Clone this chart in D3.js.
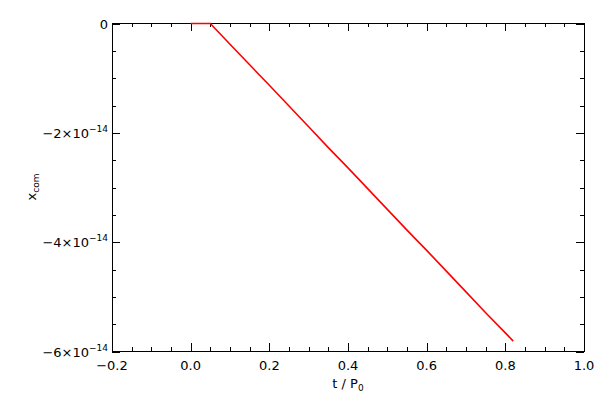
<!DOCTYPE html>
<html><head><meta charset="utf-8">
<script src="https://cdn.jsdelivr.net/npm/d3@7"></script>
<style>body{margin:0;background:#fff}svg{display:block}text{font-family:"DejaVu Sans",sans-serif;fill:#000}</style>
</head><body>
<svg id="c" width="600" height="400"></svg>
<script>
const tValues = [0, 0.05, 0.1, 0.15, 0.2, 0.25, 0.3, 0.35, 0.4, 0.45, 0.5, 0.55, 0.6, 0.65, 0.7, 0.75, 0.8, 0.82];
const xcomValues = [0, 0, -0.38e-14, -0.755e-14, -1.13e-14, -1.51e-14, -1.89e-14, -2.27e-14, -2.64e-14, -3.02e-14, -3.40e-14, -3.78e-14, -4.15e-14, -4.53e-14, -4.91e-14, -5.29e-14, -5.66e-14, -5.81e-14];
const xTicks = [-0.2, 0.0, 0.2, 0.4, 0.6, 0.8, 1.0];
const xTickLabels = ["\u22120.2", "0.0", "0.2", "0.4", "0.6", "0.8", "1.0"];
const yTicks = [0, -2e-14, -4e-14, -6e-14];
const yTickMant = ["0", "\u22122\u00d710", "\u22124\u00d710", "\u22126\u00d710"];
const yTickExp = ["", "\u221214", "\u221214", "\u221214"];

const svg = d3.select("#c");
const L = 112, R = 584, T = 23, B = 351;
const x = d3.scaleLinear().domain([-0.2, 1.0]).range([L, R]);
const y = d3.scaleLinear().domain([-6e-14, 0]).range([B + 0.5, T + 0.5]);

// frame
svg.append("rect").attr("x", L + 0.5).attr("y", T + 0.5).attr("width", R - L).attr("height", B - T)
  .attr("fill", "none").attr("stroke", "#000").attr("stroke-width", 1);

const xMinor = d3.range(-0.2, 1.0001, 0.05);
const yMinor = d3.range(-6e-14, 0.0001e-14, 0.5e-14);
const g = svg.append("g").attr("stroke", "#000").attr("stroke-width", 1);
xMinor.forEach(v => {
  const major = xTicks.some(t => Math.abs(t - v) < 1e-9);
  const len = major ? 8 : 4;
  const px = Math.round(x(v)) + 0.5;
  g.append("line").attr("x1", px).attr("x2", px).attr("y1", B).attr("y2", B - len);
  g.append("line").attr("x1", px).attr("x2", px).attr("y1", T).attr("y2", T + len);
});
yMinor.forEach(v => {
  const major = yTicks.some(t => Math.abs(t - v) < 1e-20);
  const len = major ? 8 : 4;
  const py = Math.round(y(v)) + 0.5;
  g.append("line").attr("x1", L).attr("x2", L + len).attr("y1", py).attr("y2", py);
  g.append("line").attr("x1", R).attr("x2", R - len).attr("y1", py).attr("y2", py);
});

// x tick labels
xTicks.forEach((v, i) => {
  svg.append("text").attr("x", x(v)).attr("y", 370).attr("text-anchor", "middle")
    .attr("font-size", 13).text(xTickLabels[i]);
});
// y tick labels
yTicks.forEach((v, i) => {
  const t = svg.append("text").attr("x", 108).attr("y", y(v) + 5).attr("text-anchor", "end").attr("font-size", 13);
  t.append("tspan").text(yTickMant[i]);
  if (yTickExp[i]) t.append("tspan").attr("dy", -6).attr("font-size", 9).text(yTickExp[i]);
});

// axis titles
const xt = svg.append("text").attr("x", 348).attr("y", 388).attr("text-anchor", "middle").attr("font-size", 13);
xt.append("tspan").text("t / P");
xt.append("tspan").attr("dy", 3).attr("font-size", 9).text("0");
const yt = svg.append("text").attr("transform", "translate(36,187) rotate(-90)").attr("text-anchor", "middle").attr("font-size", 13);
yt.append("tspan").text("x");
yt.append("tspan").attr("dy", 3).attr("font-size", 9).text("com");

// data line
const data = tValues.map((t, i) => [t, xcomValues[i]]);
svg.append("path").datum(data).attr("fill", "none").attr("stroke", "#ff0000").attr("stroke-width", 1.6)
  .attr("d", d3.line().x(d => x(d[0])).y(d => y(d[1])));
</script>
</body></html>
